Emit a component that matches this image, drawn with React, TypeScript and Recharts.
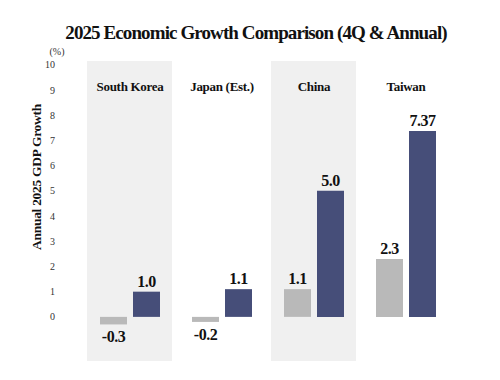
import React from "react";
import {
  BarChart,
  Bar,
  XAxis,
  YAxis,
  ReferenceArea,
  ReferenceLine,
  LabelList,
} from "recharts";

const countries = ["South Korea", "Japan (Est.)", "China", "Taiwan"];
const q4Growth = [-0.3, -0.2, 1.1, 2.3];
const annualGrowth = [1.0, 1.1, 5.0, 7.37];
const yTicks = [0, 1, 2, 3, 4, 5, 6, 7, 8, 9, 10];
const shadedCountries = ["South Korea", "China"];

const data = countries.map((c, i) => ({
  country: c,
  q4: q4Growth[i],
  annual: annualGrowth[i],
}));

const SERIF = '"Liberation Serif", "DejaVu Serif", serif';
const GREY = "#b9b9b9";
const NAVY = "#464e79";
const BAND = "#f0f0f0";

// hidden numeric x axis spanning the whole plot, used for the axis lines
const NUM_MIN = -17 / 92;
const NUM_MAX = 4 + 11 / 92;

function fmt(v: number) {
  return Number.isInteger(v * 10) ? v.toFixed(1) : String(v);
}

function ValueLabel(props: any) {
  const { x, y, width, height, value } = props;
  const top = Math.min(y, y + height);
  const bottom = Math.max(y, y + height);
  const ty = value < 0 ? bottom + 18 : top - 5;
  return (
    <text
      x={x + width / 2}
      y={ty}
      textAnchor="middle"
      fontFamily={SERIF}
      fontWeight="bold"
      fontSize={16}
      fill="#111"
      letterSpacing={-0.5}
    >
      {fmt(value)}
    </text>
  );
}

function CountryTick(props: any) {
  const { x, y, payload } = props;
  return (
    <text
      x={x}
      y={y + 38}
      textAnchor="middle"
      fontFamily={SERIF}
      fontWeight="bold"
      fontSize={13}
      fill="#111"
      letterSpacing={-0.3}
    >
      {payload.value}
    </text>
  );
}

// grey band, a little narrower than the category slot
function Band(props: any) {
  const { x, y, width, height } = props;
  return <rect x={x + 3} y={y} width={width - 7} height={height} fill={BAND} />;
}

function YTitle(props: any) {
  const { viewBox } = props;
  const cx = 36;
  const cy = 177;
  return (
    <g>
      <text
        x={viewBox.x + viewBox.width - 10}
        y={viewBox.y - 6}
        textAnchor="middle"
        fontFamily={SERIF}
        fontSize={10}
        fill="#333"
      >
        (%)
      </text>
      <text
        x={cx}
        y={cy}
        transform={`rotate(-90 ${cx} ${cy})`}
        textAnchor="middle"
        dominantBaseline="central"
        fontFamily={SERIF}
        fontWeight="bold"
        fontSize={13.5}
        fill="#111"
        letterSpacing={-0.3}
      >
        Annual 2025 GDP Growth
      </text>
    </g>
  );
}

export default function App() {
  return (
    <div style={{ position: "absolute", left: 0, top: 0, width: 500, height: 380, background: "#fff", fontFamily: SERIF }}>
      <div
        style={{
          position: "absolute",
          left: 0,
          top: 22,
          width: 512,
          textAlign: "center",
          fontFamily: SERIF,
          fontWeight: "bold",
          fontSize: 19,
          letterSpacing: -0.9,
          color: "#111",
        }}
      >
        2025 Economic Growth Comparison (4Q &amp; Annual)
      </div>
      <BarChart
        width={500}
        height={380}
        data={data}
        margin={{ top: 41, right: 37, bottom: 19, left: 0 }}
        barSize={27}
        barGap={6}
        style={{ fontFamily: SERIF }}
      >
        <XAxis
          dataKey="country"
          orientation="top"
          height={20}
          padding={{ left: 17, right: 11 }}
          axisLine={false}
          tickLine={false}
          tick={<CountryTick />}
          interval={0}
        />
        <XAxis
          xAxisId="num"
          type="number"
          domain={[NUM_MIN, NUM_MAX]}
          allowDataOverflow
          hide
        />
        <YAxis
          type="number"
          domain={[-1.75, 10.15]}
          ticks={yTicks}
          allowDataOverflow
          width={67}
          axisLine={false}
          tickLine={false}
          tickMargin={6}
          tick={{ fontFamily: SERIF, fontSize: 10, fill: "#333" }}
          label={<YTitle />}
        />
        {shadedCountries.map((c) => (
          <ReferenceArea
            key={c}
            x1={c}
            x2={c}
            y1={-1.75}
            y2={10.15}
            shape={<Band />}
          />
        ))}
        <Bar dataKey="q4" fill={GREY} isAnimationActive={false}>
          <LabelList dataKey="q4" content={<ValueLabel />} />
        </Bar>
        <Bar dataKey="annual" fill={NAVY} isAnimationActive={false}>
          <LabelList dataKey="annual" content={<ValueLabel />} />
        </Bar>
        <ReferenceLine
          xAxisId="num"
          segment={[
            { x: NUM_MIN, y: 0 },
            { x: NUM_MAX, y: 0 },
          ]}
          stroke="#111"
          strokeWidth={1.2}
        />
        <ReferenceLine
          xAxisId="num"
          segment={[
            { x: NUM_MIN, y: 0 },
            { x: NUM_MIN, y: 10.05 },
          ]}
          stroke="#111"
          strokeWidth={1.2}
        />
      </BarChart>
    </div>
  );
}
